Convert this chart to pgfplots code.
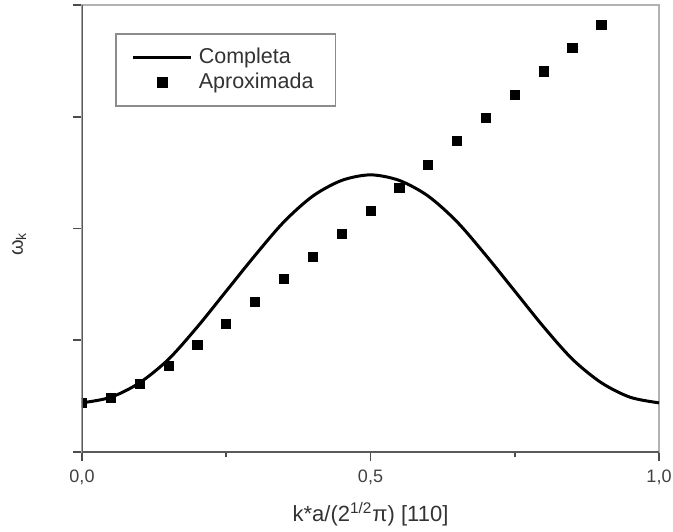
\documentclass[border=0pt]{standalone}
\usepackage{fontspec}
\setmainfont{Liberation Sans}
\usepackage{pgfplots}
\pgfplotsset{compat=1.18}

% legend samples: long line, and a single centred mark
\pgfplotsset{
  long line legend/.style={legend image code/.code={\draw[##1] (0pt,0pt) -- (29pt,0pt);}},
  centred mark legend/.style={legend image code/.code={\draw[mark repeat=2, mark phase=2, ##1]
    plot coordinates {(0pt,0pt) (14.5pt,0pt) (29pt,0pt)};}},
}

% dispersion along [110]: full expression vs. approximation
\pgfplotstableread{
k     w
0.00  0.44
0.05  0.49
0.10  0.62
0.15  0.83
0.20  1.12
0.25  1.44
0.30  1.76
0.35  2.06
0.40  2.29
0.45  2.43
0.50  2.48
0.55  2.43
0.60  2.29
0.65  2.06
0.70  1.76
0.75  1.44
0.80  1.12
0.85  0.83
0.90  0.62
0.95  0.49
1.00  0.44
}\completa

\pgfplotstableread{
k     w
0.00  0.44
0.05  0.483
0.10  0.609
0.15  0.770
0.20  0.957
0.25  1.145
0.30  1.342
0.35  1.548
0.40  1.745
0.45  1.951
0.50  2.157
0.55  2.362
0.60  2.568
0.65  2.783
0.70  2.989
0.75  3.195
0.80  3.405
0.85  3.615
0.90  3.824
0.95  4.05
}\aproximada

\begin{document}
\begin{tikzpicture}
\begin{axis}[
  width=288.5pt, height=223.5pt, scale only axis,
  xmin=0, xmax=1, ymin=0, ymax=4,
  axis line style={black!30, line width=0.8pt},
  xtick={0,0.5,1}, xticklabels={{0,0},{0,5},{1,0}},
  minor xtick={0.25,0.75},
  ytick={0,1,2,3,4}, yticklabels={},
  tick align=outside, xtick pos=bottom, ytick pos=left,
  major tick length=4.5pt, minor tick length=2.5pt,
  every tick/.style={black!70, line width=0.8pt},
  ticklabel style={font=\fontsize{9}{10}\selectfont, text=black!75},
  xticklabel style={yshift=-1pt},
  xlabel={k*a/(2\textsuperscript{1/2}π) [110]},
  ylabel={ω\textsubscript{k}},
  xlabel style={at={(axis description cs:0.5,0)}, anchor=center, yshift=-31pt,
    font=\fontsize{11}{12}\selectfont, text=black!80},
  ylabel style={at={(axis description cs:-0.109,0.465)}, anchor=center,
    font=\fontsize{10}{11}\selectfont, text=black!80},
  clip marker paths=true,
  legend cell align=left,
  legend style={at={(axis description cs:0.0572,0.937)}, anchor=north west,
    draw=black!45, line width=0.8pt, inner xsep=8pt, inner ysep=6.2pt,
    font=\fontsize{10.75}{12}\selectfont, text=black!80,
    row sep=1pt, nodes={inner xsep=3pt, inner ysep=1pt}},
]
\addplot[black, line width=1.5pt, smooth, long line legend]
  table[x=k, y=w] {\completa};
\addlegendentry{Completa}
\addplot[only marks, mark=square*, mark size=2.3pt, black, centred mark legend]
  table[x=k, y=w] {\aproximada};
\addlegendentry{Aproximada}
% darker left and bottom axis lines
\draw[black!65, line width=1.1pt] (rel axis cs:0,1) -- (rel axis cs:0,0) -- (rel axis cs:1,0);
\end{axis}
\pgfresetboundingbox
\path ([shift={(-41pt,-39.5pt)}]current axis.south west)
  rectangle ([shift={(7pt,2.5pt)}]current axis.north east);
\end{tikzpicture}
\end{document}
